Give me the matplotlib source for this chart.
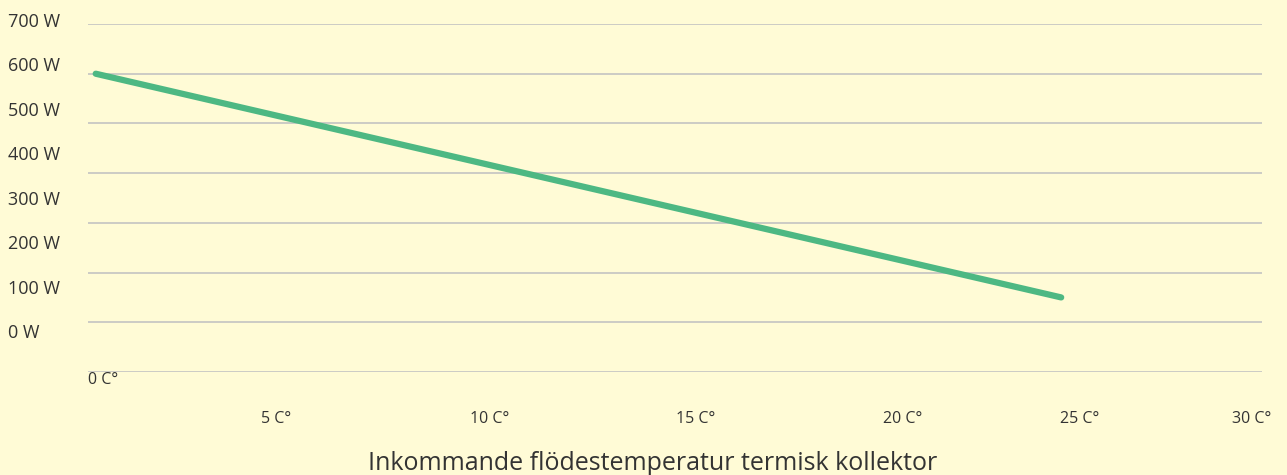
import matplotlib.pyplot as plt
from matplotlib import transforms

# chart data
temps = [0, 25]
power = [600, 150]
y_ticks = [0, 100, 200, 300, 400, 500, 600, 700]
y_labels = [f"{v} W" for v in y_ticks]
x_ticks = [5, 10, 15, 20, 25, 30]
x_labels = [f"{t} C°" for t in x_ticks]
# where the page puts the temperature labels (pixel centres, not on the scale)
x_label_px = [276, 490, 696, 903, 1080, 1252]

W, H = 1287, 475
BG = "#FFFBD6"
TXT = "#333333"
plt.rcParams['font.family'] = ['Open Sans', 'DejaVu Sans']

fig = plt.figure(figsize=(W / 100, H / 100), dpi=100, facecolor=BG)

# plot area: gridlines run from x=88 to 1262, y=24 (700) to 372 (0)
ax = fig.add_axes([88 / W, (H - 372) / H, (1262 - 88) / W, (372 - 24) / H])
ax.set_facecolor(BG)
ax.set_xlim(-0.2, 30.2)
ax.set_ylim(0, 700)
for v in y_ticks:
    ax.axhline(v, color="#C8C8C4", lw=1.3, zorder=1)
ax.plot(temps, power, color="#4DB883", lw=4.5, solid_capstyle="round", zorder=3)
ax.axis("off")

# y labels sit on their own evenly spaced column (22px .. 333px)
lab = fig.add_axes([8 / W, (H - 333) / H, 0.06, (333 - 22) / H])
lab.set_ylim(0, 700)
lab.axis("off")
for v, s in zip(y_ticks, y_labels):
    lab.text(0, v, s, ha="left", va="center", fontsize=13, color=TXT,
             transform=transforms.blended_transform_factory(lab.transAxes, lab.transData))

# x labels
fig.text(88 / W, 1 - 380 / H, "0 C°", ha="left", va="center", fontsize=11.5, color=TXT)
for px, s in zip(x_label_px, x_labels):
    fig.text(px / W, 1 - 419 / H, s, ha="center", va="center", fontsize=11.5, color=TXT)

fig.text(653 / W, 1 - 463 / H, "Inkommande flödestemperatur termisk kollektor",
         ha="center", va="center", fontsize=18, color=TXT)

fig.savefig("out.png", dpi=100, facecolor=BG)
